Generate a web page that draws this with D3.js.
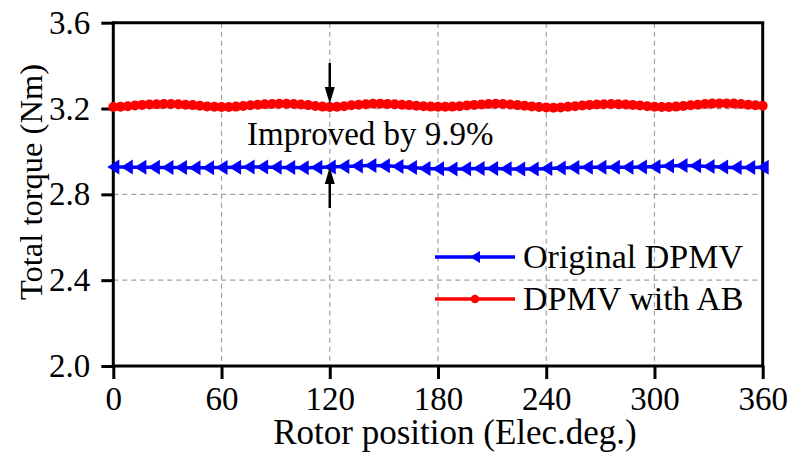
<!DOCTYPE html>
<html><head><meta charset="utf-8">
<script src="https://cdn.jsdelivr.net/npm/d3@7"></script>
<style>body{margin:0;background:#fff}svg{display:block}text{font-family:"Liberation Serif","Times New Roman",serif;fill:#000}</style>
</head><body><svg id="c" width="792" height="452"></svg>
<script>
const xTicks=[0,60,120,180,240,300,360];
const yTicks=[2.0,2.4,2.8,3.2,3.6];
const seriesNames=["Original DPMV","DPMV with AB"];
const blueX=[0,7.5,15,22.5,30,37.5,45,52.5,60,67.5,75,82.5,90,97.5,105,112.5,120,127.5,135,142.5,150,157.5,165,172.5,180,187.5,195,202.5,210,217.5,225,232.5,240,247.5,255,262.5,270,277.5,285,292.5,300,307.5,315,322.5,330,337.5,345,352.5,360];
const blueY=[2.927,2.927,2.926,2.926,2.925,2.925,2.924,2.924,2.925,2.926,2.927,2.927,2.926,2.925,2.924,2.925,2.927,2.930,2.932,2.934,2.933,2.930,2.925,2.921,2.919,2.918,2.919,2.920,2.920,2.919,2.918,2.918,2.920,2.923,2.925,2.926,2.926,2.926,2.926,2.927,2.929,2.932,2.934,2.933,2.930,2.927,2.925,2.925,2.926];
const redX=[0,4,8,12,16,20,24,28,32,36,40,44,48,52,56,60,64,68,72,76,80,84,88,92,96,100,104,108,112,116,120,124,128,132,136,140,144,148,152,156,160,164,168,172,176,180,184,188,192,196,200,204,208,212,216,220,224,228,232,236,240,244,248,252,256,260,264,268,272,276,280,284,288,292,296,300,304,308,312,316,320,324,328,332,336,340,344,348,352,356,360];
const redY=[3.207,3.208,3.211,3.214,3.217,3.219,3.220,3.221,3.221,3.220,3.218,3.216,3.213,3.210,3.208,3.207,3.207,3.209,3.212,3.215,3.218,3.220,3.221,3.222,3.222,3.221,3.219,3.216,3.212,3.209,3.207,3.208,3.211,3.215,3.218,3.220,3.222,3.222,3.221,3.220,3.218,3.216,3.213,3.211,3.209,3.208,3.208,3.209,3.211,3.214,3.217,3.219,3.221,3.222,3.221,3.219,3.216,3.213,3.210,3.207,3.205,3.204,3.205,3.208,3.211,3.214,3.217,3.219,3.220,3.221,3.220,3.219,3.217,3.214,3.211,3.208,3.207,3.207,3.209,3.212,3.215,3.218,3.221,3.223,3.224,3.224,3.223,3.221,3.218,3.215,3.213];
const annotation="Improved by 9.9%";
const annX=120;

const svg=d3.select("#c");
const L=113.3,R=762.7,T=22.7,B=366;
const x=d3.scaleLinear().domain([0,360]).range([L,R]);
const y=d3.scaleLinear().domain([2.0,3.6]).range([B,T]);

// grid
const g=svg.append("g");
g.selectAll(".gx").data(xTicks.slice(1,-1)).enter().append("line")
 .attr("x1",d=>x(d)).attr("x2",d=>x(d)).attr("y1",T).attr("y2",B)
 .attr("stroke","#a0a0a0").attr("stroke-width",1.2).attr("stroke-dasharray","5,4");
g.selectAll(".gy").data(yTicks.slice(1,-1)).enter().append("line")
 .attr("x1",L).attr("x2",R).attr("y1",d=>y(d)).attr("y2",d=>y(d))
 .attr("stroke","#a0a0a0").attr("stroke-width",1.2).attr("stroke-dasharray","5,4");

// frame top/right
svg.append("line").attr("x1",L).attr("x2",R+1.5).attr("y1",T).attr("y2",T).attr("stroke","#000").attr("stroke-width",3);
svg.append("line").attr("x1",R).attr("x2",R).attr("y1",T).attr("y2",B).attr("stroke","#000").attr("stroke-width",3);

// axes
const xa=svg.append("g").attr("transform",`translate(0,${B})`)
 .call(d3.axisBottom(x).tickValues(xTicks).tickFormat(d3.format("d")).tickSize(13).tickPadding(8).tickSizeOuter(0));
const ya=svg.append("g").attr("transform",`translate(${L},0)`)
 .call(d3.axisLeft(y).tickValues(yTicks).tickFormat(d3.format(".1f")).tickSize(12).tickPadding(11).tickSizeOuter(0));
[xa,ya].forEach(a=>{
 a.select(".domain").attr("stroke","#000").attr("stroke-width",3);
 a.selectAll(".tick line").attr("stroke","#000").attr("stroke-width",3);
 a.selectAll(".tick text").style("font-family",'"Liberation Serif",serif').style("font-size","33px").attr("fill","#000");
});
xa.select(".domain").attr("d",`M${L-1.5},0H${R+1.5}`);
ya.select(".domain").attr("d",`M0,${B+1.5}V${T-1.5}`);

// titles
svg.append("text").attr("x",455).attr("y",444).attr("text-anchor","middle").style("font-size","35px").text("Rotor position (Elec.deg.)");
svg.append("text").attr("transform","translate(42,182) rotate(-90)").attr("text-anchor","middle").style("font-size","32.5px").text("Total torque (Nm)");

// series
const tri="M-6,0L6,-7.5L6,7.5Z";
const blueData=blueX.map((d,i)=>[d,blueY[i]]);
const redData=redX.map((d,i)=>[d,redY[i]]);
const line=d3.line().x(d=>x(d[0])).y(d=>y(d[1])).curve(d3.curveMonotoneX);
svg.append("path").datum(redData).attr("d",line).attr("fill","none").attr("stroke","#ff0000").attr("stroke-width",3.5);
svg.selectAll(".rd").data(redData).enter().append("circle").attr("cx",d=>x(d[0])).attr("cy",d=>y(d[1])).attr("r",5).attr("fill","#ff0000");
svg.append("path").datum(blueData).attr("d",line).attr("fill","none").attr("stroke","#0000ff").attr("stroke-width",3.5);
svg.selectAll(".bt").data(blueData).enter().append("path").attr("d",tri).attr("transform",d=>`translate(${x(d[0])},${y(d[1])})`).attr("fill","#0000ff");

// annotation arrows
function arrow(x0,y0,y1){
 const dir=Math.sign(y1-y0);
 svg.append("line").attr("x1",x0).attr("x2",x0).attr("y1",y0).attr("y2",y1-dir*12).attr("stroke","#000").attr("stroke-width",2.5);
 svg.append("path").attr("d",`M${x0},${y1}L${x0-5},${y1-dir*17}L${x0+5},${y1-dir*17}Z`).attr("fill","#000");
}
arrow(x(annX),63,104);
arrow(x(annX),208,167);
svg.append("text").attr("x",247).attr("y",145).style("font-size","33px").text(annotation);

// legend
const lg=[{n:seriesNames[0],c:"#0000ff",yy:257,m:"tri"},{n:seriesNames[1],c:"#ff0000",yy:299,m:"dot"}];
lg.forEach(o=>{
 svg.append("line").attr("x1",435).attr("x2",515).attr("y1",o.yy).attr("y2",o.yy).attr("stroke",o.c).attr("stroke-width",3.5);
 if(o.m==="tri") svg.append("path").attr("d","M-5,0L5,-6L5,6Z").attr("transform",`translate(475,${o.yy})`).attr("fill",o.c);
 else svg.append("circle").attr("cx",475).attr("cy",o.yy).attr("r",4.2).attr("fill",o.c);
 svg.append("text").attr("x",523).attr("y",o.yy+11).style("font-size","34px").text(o.n);
});
</script></body></html>
